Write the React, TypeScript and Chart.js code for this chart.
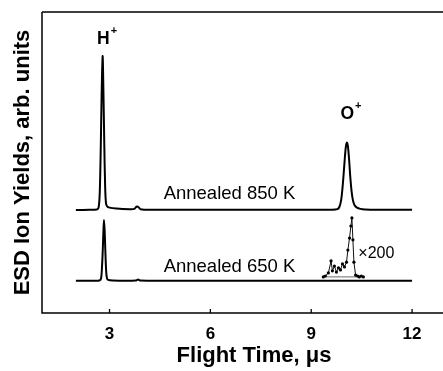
import React, { useEffect, useRef } from "react";
import { Chart, registerables } from "chart.js";

Chart.register(...registerables);

const FONT = "'Liberation Sans', Arial, Helvetica, sans-serif";

// Flight time tick labels (µs)
const xTickValues = [3, 6, 9, 12];
const xTitle = "Flight Time, \u03bcs";
const yTitle = "ESD Ion Yields, arb. units";

// Annealed 850 K trace: [flight time µs, yield arb.]
const trace850: [number, number][] = [
  [2.0, 34.2], [2.4, 34.3], [2.62, 34.4], [2.675, 35.0], [2.71, 40], [2.74, 55],
  [2.765, 72], [2.795, 85.4], [2.82, 73], [2.845, 56], [2.87, 42], [2.895, 36.5],
  [2.93, 35.4], [3.0, 35.0], [3.2, 34.7], [3.6, 34.5], [3.74, 34.6], [3.8, 35.3],
  [3.86, 35.2], [3.92, 34.5], [4.3, 34.3], [5.0, 34.3], [6.0, 34.3], [7.0, 34.3],
  [8.0, 34.3], [9.0, 34.3], [9.6, 34.3], [9.78, 34.5], [9.84, 35.3], [9.89, 37.5],
  [9.93, 41.5], [9.96, 45.5], [10.0, 51.5], [10.03, 55.2], [10.06, 56.6], [10.09, 55.5],
  [10.13, 50.5], [10.16, 45.5], [10.2, 40.5], [10.24, 37.5], [10.29, 35.8], [10.36, 35.0],
  [10.46, 34.6], [10.6, 34.4], [11.0, 34.3], [11.5, 34.3], [12.0, 34.3],
];

// Annealed 650 K trace
const trace650: [number, number][] = [
  [2.0, 10.7], [2.5, 10.7], [2.7, 10.8], [2.75, 11.5], [2.78, 16], [2.8, 21],
  [2.82, 27.5], [2.836, 30.9], [2.855, 27.5], [2.875, 21], [2.9, 14], [2.925, 11.5],
  [2.96, 11.0], [3.1, 10.8], [3.5, 10.7], [3.78, 10.8], [3.85, 11.1], [3.92, 10.8],
  [4.5, 10.7], [6.0, 10.7], [8.0, 10.7], [10.0, 10.7], [11.0, 10.7], [12.0, 10.7],
];

// O+ region of the 650 K trace magnified x200
const inset200: [number, number][] = [
  [9.36, 12.0], [9.42, 12.3], [9.51, 13.3], [9.59, 17.3], [9.63, 14.0], [9.69, 15.6],
  [9.75, 13.6], [9.81, 15.0], [9.87, 14.3], [9.93, 16.3], [9.99, 15.3], [10.05, 16.9],
  [10.09, 20.9], [10.14, 24.9], [10.18, 28.9], [10.21, 31.6], [10.24, 24.3], [10.27, 16.9],
  [10.32, 12.6], [10.38, 12.3], [10.43, 12.0], [10.49, 12.3], [10.55, 12.0],
];
const insetBase: [number, number][] = [[9.36, 12.0], [10.55, 12.0]];

// Annotation texts and anchors (data coordinates)
const noteTexts = ["Annealed 850 K", "Annealed 650 K", "\u00d7200"];
const noteX = [4.61, 4.61, 10.4];
const noteY = [37.8, 13.7, 18.3];
const ionTexts = ["H", "O"];
const ionX = [2.628, 9.869];
const ionY = [89.3, 64.35];

const toPts = (a: [number, number][]) => a.map(([x, y]) => ({ x, y }));

export default function App() {
  const ref = useRef<HTMLCanvasElement>(null);

  useEffect(() => {
    const deco = {
      id: "deco",
      afterDraw(chart: any) {
        const { ctx, chartArea: a } = chart;
        const xs = chart.scales.x;
        const ys = chart.scales.y;
        const W = chart.width;
        ctx.save();
        ctx.strokeStyle = "#000";
        ctx.lineWidth = 1.5;
        ctx.beginPath();
        ctx.moveTo(a.left, a.top);
        ctx.lineTo(W + 5, a.top);
        ctx.moveTo(a.left, a.top);
        ctx.lineTo(a.left, a.bottom);
        ctx.lineTo(W + 5, a.bottom);
        ctx.stroke();
        ctx.lineWidth = 1.3;
        for (const v of xTickValues) {
          const px = xs.getPixelForValue(v);
          ctx.beginPath();
          ctx.moveTo(px, a.bottom);
          ctx.lineTo(px, a.bottom - 4);
          ctx.stroke();
        }
        ctx.fillStyle = "#000";
        ctx.textAlign = "left";
        ctx.textBaseline = "alphabetic";
        ctx.font = `18.5px ${FONT}`;
        for (let i = 0; i < 2; i++) {
          ctx.fillText(noteTexts[i], xs.getPixelForValue(noteX[i]), ys.getPixelForValue(noteY[i]));
        }
        ctx.font = `16px ${FONT}`;
        ctx.fillText(noteTexts[2], xs.getPixelForValue(noteX[2]), ys.getPixelForValue(noteY[2]));
        for (let i = 0; i < ionTexts.length; i++) {
          const px = xs.getPixelForValue(ionX[i]);
          const py = ys.getPixelForValue(ionY[i]);
          ctx.font = `bold 17.5px ${FONT}`;
          ctx.fillText(ionTexts[i], px, py);
          const w = ctx.measureText(ionTexts[i]).width;
          ctx.font = `bold 11px ${FONT}`;
          ctx.fillText("+", px + w + 1, py - 10);
        }
        // axis titles
        ctx.font = `bold 22px ${FONT}`;
        ctx.textAlign = "center";
        ctx.fillText(xTitle, 254, 361.5);
        ctx.save();
        ctx.translate(29, (a.top + a.bottom) / 2);
        ctx.rotate(-Math.PI / 2);
        ctx.fillText(yTitle, 0, 0);
        ctx.restore();
        ctx.restore();
      },
    };

    const chart = new Chart(ref.current as HTMLCanvasElement, {
      type: "scatter",
      data: {
        datasets: [
          {
            data: toPts(trace850),
            showLine: true,
            borderColor: "#000",
            borderWidth: 2,
            pointRadius: 0,
            tension: 0.3,
          },
          {
            data: toPts(trace650),
            showLine: true,
            borderColor: "#000",
            borderWidth: 2,
            pointRadius: 0,
            tension: 0.3,
          },
          {
            data: toPts(inset200),
            showLine: true,
            borderColor: "#111",
            borderWidth: 1,
            pointRadius: 1.6,
            pointBackgroundColor: "#000",
            pointBorderWidth: 0,
            tension: 0,
          },
          {
            data: toPts(insetBase),
            showLine: true,
            borderColor: "#444",
            borderWidth: 0.8,
            pointRadius: 0,
          },
        ],
      } as any,
      options: {
        animation: false,
        responsive: false,
        layout: { autoPadding: false, padding: { left: 0, top: 12, right: 0, bottom: 0 } },
        plugins: { legend: { display: false }, tooltip: { enabled: false } },
        scales: {
          x: {
            type: "linear",
            min: 0.992,
            max: 12.92,
            grid: { display: false, drawTicks: false },
            border: { display: false },
            afterBuildTicks: (s: any) => {
              s.ticks = xTickValues.map((v) => ({ value: v }));
            },
            afterFit: (s: any) => {
              s.height = 58;
              s.paddingLeft = 0;
              s.paddingRight = 0;
            },
            ticks: {
              color: "#000",
              padding: 11,
              maxRotation: 0,
              font: { family: FONT, size: 17, weight: "bold" },
            },
          },
          y: {
            type: "linear",
            min: 0,
            max: 100,
            grid: { display: false },
            border: { display: false },
            ticks: { display: false },
            afterFit: (s: any) => {
              s.width = 42;
            },
          },
        },
      } as any,
      plugins: [deco],
    });
    return () => chart.destroy();
  }, []);

  return (
    <div style={{ position: "fixed", left: 0, top: 0, width: 443, height: 371, background: "#fff" }}>
      <canvas ref={ref} width={443} height={371} style={{ display: "block", width: 443, height: 371 }} />
    </div>
  );
}
